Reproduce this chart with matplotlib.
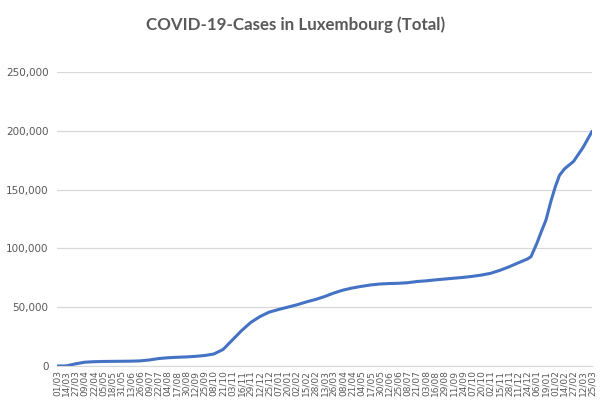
import matplotlib
matplotlib.use("Agg")
import matplotlib.pyplot as plt
import pandas as pd

# cumulative cases
dates = [
    "2020-03-01", "2020-03-14", "2020-03-27", "2020-04-09", "2020-04-22", "2020-05-05",
    "2020-05-18", "2020-05-31", "2020-06-13", "2020-06-26", "2020-07-09", "2020-07-22",
    "2020-08-04", "2020-08-17", "2020-08-30", "2020-09-12", "2020-09-25", "2020-10-08",
    "2020-10-21", "2020-11-03", "2020-11-16", "2020-11-29", "2020-12-12", "2020-12-25",
    "2021-01-07", "2021-01-20", "2021-02-02", "2021-02-15", "2021-02-28", "2021-03-13",
    "2021-03-26", "2021-04-08", "2021-04-21", "2021-05-04", "2021-05-17", "2021-05-30",
    "2021-06-12", "2021-06-25", "2021-07-08", "2021-07-21", "2021-08-03", "2021-08-16",
    "2021-08-29", "2021-09-11", "2021-09-24", "2021-10-07", "2021-10-20", "2021-11-02",
    "2021-11-15", "2021-11-28", "2021-12-11", "2021-12-24", "2021-12-29", "2022-01-06",
    "2022-01-13", "2022-01-19", "2022-01-26", "2022-02-01", "2022-02-07", "2022-02-14",
    "2022-02-27", "2022-03-12", "2022-03-25",
]
cases = [
    0, 60, 1800, 3200, 3650, 3850,
    3950, 4020, 4100, 4350, 5100, 6300,
    7000, 7400, 7700, 8200, 8900, 10200,
    14000, 22000, 30000, 37000, 42000, 45800,
    48000, 50000, 52000, 54400, 56500, 59000,
    62000, 64500, 66300, 67700, 68900, 69700,
    70100, 70300, 70800, 71800, 72400, 73200,
    73900, 74600, 75300, 76200, 77300, 78800,
    81300, 84300, 87700, 91000, 93000, 104000,
    115000, 124000, 140000, 152000, 162000, 167500,
    174000, 185500, 199500,
]

dates = pd.to_datetime(dates)
tick_dates = pd.date_range("2020-03-01", "2022-03-25", freq="13D")

fig = plt.figure(figsize=(6.06, 4.11), dpi=100)
ax = fig.add_axes([0.094, 0.1095, 0.883, 0.7155])

ax.plot(dates, cases, color="#4472C4", linewidth=2.2, solid_capstyle="round")

ax.set_ylim(0, 250000)
ax.set_yticks(range(0, 250001, 50000))
ax.set_yticklabels([f"{v:,}" for v in range(0, 250001, 50000)])
ax.set_xlim(tick_dates[0], tick_dates[-1])
ax.set_xticks(tick_dates)
ax.set_xticklabels([d.strftime("%d/%m") for d in tick_dates], rotation=90)

ax.grid(axis="y", color="#d9d9d9", linewidth=0.9)
ax.set_axisbelow(True)
for side in ["top", "right", "left"]:
    ax.spines[side].set_visible(False)
ax.spines["bottom"].set_color("#d9d9d9")
ax.tick_params(axis="both", length=0, colors="#595959")
ax.tick_params(axis="y", labelsize=7.5, pad=6)
ax.tick_params(axis="x", labelsize=6.5, pad=3)

fig.text(0.487, 0.94, "COVID-19-Cases in Luxembourg (Total)", ha="center", va="center",
         fontsize=12.2, fontweight="bold", color="#595959", family=["Lato", "DejaVu Sans"])

fig.savefig("out.png", dpi=100)
